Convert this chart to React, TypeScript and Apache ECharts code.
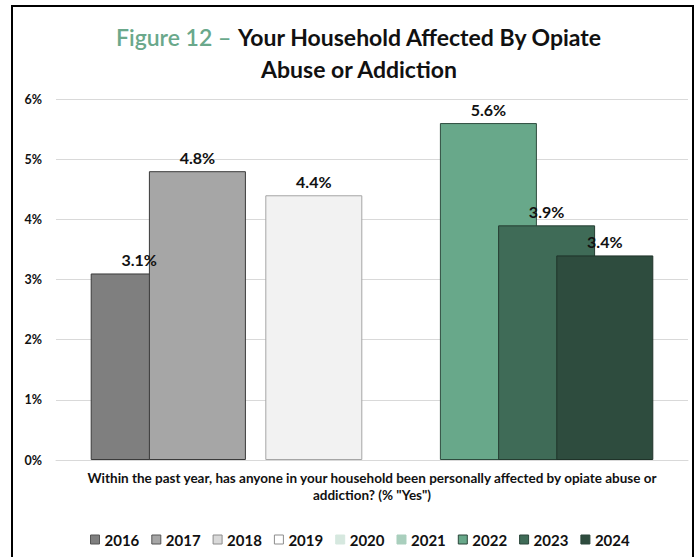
import React, { useEffect, useRef } from "react";
import * as echarts from "echarts";

const categories = [
  'Within the past year, has anyone in your household been personally affected by opiate abuse or\naddiction? (% "Yes")',
];
const years = ["2016", "2017", "2018", "2019", "2020", "2021", "2022", "2023", "2024"];
const values: (number | null)[] = [3.1, 4.8, null, 4.4, null, null, 5.6, 3.9, 3.4];
const barColors = ["#7f7f7f", "#a6a6a6", "#d9d9d9", "#f2f2f2", "#d6e8df", "#a9cfbd", "#68a88a", "#3f6b57", "#2e4c3e"];
const borderColors = ["#3a3a3a", "#3a3a3a", "#8c8c8c", "#a6a6a6", "#d6e8df", "#a9cfbd", "#2e4c3e", "#253d31", "#1f3329"];
const legendColors = ["#7f7f7f", "#a6a6a6", "#d9d9d9", "#ffffff", "#d6e8df", "#a9cfbd", "#68a88a", "#3f6b57", "#2e4c3e"];
const yTicks = { min: 0, max: 6, interval: 1 };

const FONT = "Lato, 'Open Sans', sans-serif";

export default function App() {
  const ref = useRef<HTMLDivElement>(null);
  useEffect(() => {
    if (!ref.current) return;
    const chart = echarts.init(ref.current, null, { renderer: "svg" });
    const series = years.map((y, i) => ({
      name: y,
      type: "bar",
      data: [values[i]],
      barWidth: 97,
      barGap: "-40%",
      itemStyle: { color: barColors[i], borderColor: borderColors[i], borderWidth: 1 },
      label: {
        show: values[i] !== null,
        position: "top",
        distance: 6,
        fontFamily: FONT,
        fontWeight: "bold",
        fontSize: 16,
        color: "#111111",
        formatter: (p: any) => (p.value == null ? "" : Number(p.value).toFixed(1) + "%"),
      },
    }));
    chart.setOption({
      animation: false,
      backgroundColor: "#ffffff",
      textStyle: { fontFamily: FONT },
      grid: { left: 56, right: 9, top: 99, bottom: 97 },
      xAxis: {
        type: "category",
        data: categories,
        axisLine: { show: true, lineStyle: { color: "#d9d9d9", width: 1 } },
        axisTick: { show: false },
        axisLabel: {
          fontFamily: FONT,
          fontWeight: "bold",
          fontSize: 13.5,
          color: "#111111",
          lineHeight: 17,
          margin: 9,
          align: "center",
        },
      },
      yAxis: {
        type: "value",
        min: yTicks.min,
        max: yTicks.max,
        interval: yTicks.interval,
        axisLine: { show: false },
        axisTick: { show: false },
        splitLine: { lineStyle: { color: "#d9d9d9", width: 1 } },
        axisLabel: {
          fontFamily: FONT,
          fontWeight: "bold",
          fontSize: 12.5,
          color: "#111111",
          margin: 14,
          formatter: "{value}%",
        },
      },
      legend: {
        left: 85,
        top: 527,
        itemWidth: 9,
        itemHeight: 9,
        itemGap: 12,
        icon: "rect",
        textStyle: { fontFamily: FONT, fontWeight: "bold", fontSize: 15, color: "#111111" },
        data: years.map((y, i) => ({
          name: y,
          itemStyle: {
            color: legendColors[i],
            borderColor: i === 4 || i === 5 ? legendColors[i] : i < 2 ? "#555555" : i < 4 ? "#8c8c8c" : "#2a463a",
            borderWidth: 1,
          },
        })),
      },
      graphic: [
        {
          type: "rect",
          shape: { x: 12, y: 6, width: 681, height: 600 },
          style: { fill: "none", stroke: "#000000", lineWidth: 2 },
          silent: true,
        },
        {
          type: "text",
          x: 359,
          y: 37,
          style: {
            text: "{g|Figure 12 – }{b|Your Household Affected By Opiate}",
            align: "center",
            verticalAlign: "middle",
            rich: {
              g: { fontFamily: FONT, fontSize: 23, fontWeight: 600, fill: "#6aa88b" },
              b: { fontFamily: FONT, fontSize: 23, fontWeight: "bold", fill: "#111111" },
            },
          },
        },
        {
          type: "text",
          x: 359,
          y: 69,
          style: {
            text: "Abuse or Addiction",
            align: "center",
            verticalAlign: "middle",
            fontFamily: FONT,
            fontSize: 23,
            fontWeight: "bold",
            fill: "#111111",
          },
        },
      ],
      series,
    });
    return () => chart.dispose();
  }, []);
  return (
    <div
      ref={ref}
      style={{ position: "fixed", left: 0, top: 0, width: 697, height: 557, background: "#fff" }}
    />
  );
}
